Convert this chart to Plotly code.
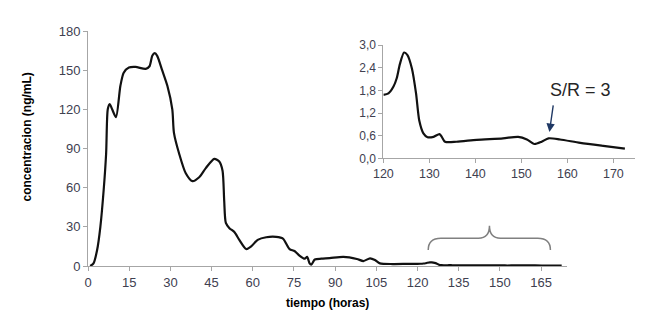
import plotly.graph_objects as go

# ---- data ----
main_time = [0.8, 2, 3.3, 4.5, 5.7, 6.6, 7.2, 7.9, 8.8, 10.2, 11.8, 13, 14.9, 17.3, 21, 22.4,
             23.4, 24.3, 25.2, 27, 28.9, 30.7, 31.3, 33.2, 35.6, 38, 40.5, 42.9, 46, 47.8, 49,
             49.6, 50.2, 51.5, 53.3, 55.1, 57.6, 59.4, 61.8, 64.9, 68.5, 71, 73.4, 75.2, 77,
             78.9, 79.8, 80.7, 81.3, 82.6, 85, 88, 93, 97.9, 100.3, 102.7, 104.5, 106.3, 111, 116]
main_conc = [0, 2, 12, 30, 58, 86, 120, 124, 120, 114, 138, 148, 152, 152.5, 151, 153,
             161, 163, 161, 150, 138, 120, 102, 86, 71, 65, 68, 75, 82, 80, 73,
             50, 33, 29, 26, 20, 13, 15, 20, 22, 22.3, 21, 13, 11.5, 8,
             5.6, 7, 2, 1, 5, 5.6, 6, 7, 5.4, 3.8, 5.9, 4.6, 2, 1.5, 1.6]

inset_time = [120, 121.1, 122.2, 122.9, 123.6, 124.5, 125.2, 126.2, 127.1, 127.8, 128.7, 129.6,
              130.9, 132.2, 132.7, 133.4, 135.9, 140.3, 146, 149.3, 151.2, 152.8, 154.4, 155.9,
              158.4, 162.8, 167.8, 172.5]
inset_conc = [1.68, 1.72, 1.9, 2.12, 2.5, 2.8, 2.74, 2.38, 1.72, 1.0, 0.66, 0.56,
              0.57, 0.64, 0.57, 0.44, 0.44, 0.49, 0.53, 0.57, 0.5, 0.38, 0.44, 0.53,
              0.5, 0.41, 0.33, 0.26]

main_xticks = [0, 15, 30, 45, 60, 75, 90, 105, 120, 135, 150, 165]
main_yticks = [0, 30, 60, 90, 120, 150, 180]
inset_xticks = [120, 130, 140, 150, 160, 170]
inset_yticks = [0.0, 0.6, 1.2, 1.8, 2.4, 3.0]
inset_yticklabels = ["0,0", "0,6", "1,2", "1,8", "2,4", "3,0"]

x_title = "tiempo (horas)"
y_title = "concentracion (ng/mL)"
annot_text = "S/R = 3"

# ---- figure ----
FONT = "Liberation Sans, Arial, sans-serif"
TICKCOL = "#404050"
AXCOL = "#a6a6a6"

fig = go.Figure()
fig.add_trace(go.Scatter(x=main_time + inset_time, y=main_conc + inset_conc,
                         mode="lines", line=dict(color="#111111", width=2.2, shape="spline", smoothing=0.7),
                         xaxis="x", yaxis="y", showlegend=False, hoverinfo="skip"))
fig.add_trace(go.Scatter(x=inset_time, y=inset_conc,
                         mode="lines", line=dict(color="#111111", width=2.2, shape="spline", smoothing=0.7),
                         xaxis="x2", yaxis="y2", showlegend=False, hoverinfo="skip"))

axis_common = dict(showgrid=False, zeroline=False, showline=True, linecolor=AXCOL, linewidth=1,
                   ticks="outside", ticklen=4, tickcolor=AXCOL,
                   tickfont=dict(family=FONT, size=13, color=TICKCOL))

# page body has an 8px margin, so the figure is 8px smaller and shifted
fig.update_layout(
    width=642, height=313,
    margin=dict(l=80, r=15, t=23, b=55),
    paper_bgcolor="white", plot_bgcolor="white",
    xaxis=dict(domain=[0, 0.875], range=[0, 174.3], tickvals=main_xticks, anchor="y", **axis_common),
    yaxis=dict(domain=[0, 1], range=[0, 180], tickvals=main_yticks, anchor="x", **axis_common),
    xaxis2=dict(domain=[0.54, 1.0], range=[120, 174.7], tickvals=inset_xticks, anchor="y2",
                **{**axis_common, "tickfont": dict(family=FONT, size=12.5, color=TICKCOL)}),
    yaxis2=dict(domain=[0.458, 0.9404], range=[0, 3.0], tickvals=inset_yticks, ticktext=inset_yticklabels,
                anchor="x2", **{**axis_common, "tickfont": dict(family=FONT, size=12, color=TICKCOL)}),
)

# axis titles as annotations (pixel-precise placement)
fig.add_annotation(text=f"<b>{x_title}</b>", xref="paper", yref="paper",
                   x=(327.7 - 88) / 547, y=(266 - 303) / 235, showarrow=False,
                   font=dict(family=FONT, size=12, color="#000000"), xanchor="center", yanchor="middle")
fig.add_annotation(text=f"<b>{y_title}</b>", xref="paper", yref="paper",
                   x=(26 - 88) / 547, y=(266 - 137.5) / 235, showarrow=False, textangle=-90,
                   font=dict(family=FONT, size=12, color="#000000"), xanchor="center", yanchor="middle")

# S/R label and arrow in the inset
fig.add_annotation(text=annot_text, xref="x2", yref="y2", x=162.8, y=1.82, showarrow=False,
                   font=dict(family=FONT, size=18, color="#262626"), xanchor="center", yanchor="middle")
fig.add_annotation(text="", xref="x2", yref="y2", x=156.1, y=0.70, ax=4, ay=-28,
                   showarrow=True, arrowhead=2, arrowsize=1.2, arrowwidth=1.4, arrowcolor="#1f3864")

# brace over the tail of the main curve
fig.add_shape(type="path", xref="x", yref="y",
              path="M 123.9,12.3 Q 123.9,21.3 128.5,21.3 L 142.2,21.3 Q 146.2,21.3 146.2,30.8 "
                   "Q 146.2,21.3 150.2,21.3 L 163.8,21.3 Q 168.4,21.3 168.4,12.3",
              line=dict(color="#808080", width=1.5))

fig.write_html("out.html")
